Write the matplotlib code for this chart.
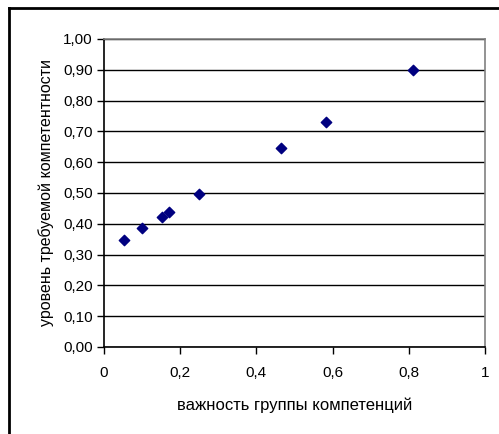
import matplotlib
matplotlib.use("Agg")
import matplotlib.pyplot as plt
from matplotlib.lines import Line2D
from matplotlib.ticker import FuncFormatter

plt.rcParams['font.family'] = ['Liberation Sans', 'DejaVu Sans']

x_vals = [0.052, 0.100, 0.151, 0.171, 0.250, 0.464, 0.583, 0.811]
y_vals = [0.347, 0.387, 0.423, 0.437, 0.496, 0.647, 0.730, 0.900]
x_ticks = [0, 0.2, 0.4, 0.6, 0.8, 1.0]
y_ticks = [0.0, 0.1, 0.2, 0.3, 0.4, 0.5, 0.6, 0.7, 0.8, 0.9, 1.0]
x_label = "важность группы компетенций"
y_label = "уровень требуемой компетентности"

fig = plt.figure(figsize=(4.99, 4.34), dpi=100)
W, H = 499, 434
ax = fig.add_axes([104 / W, (H - 347) / H, (485 - 104) / W, (347 - 39) / H])

# outer chart frame (left and top edges visible)
fig.add_artist(Line2D([9 / W, 9 / W], [0, 1 - 8 / H], color='black', lw=2, transform=fig.transFigure))
fig.add_artist(Line2D([9 / W, 1], [1 - 8 / H, 1 - 8 / H], color='black', lw=2, transform=fig.transFigure))

ax.set_xlim(0, 1)
ax.set_ylim(0, 1)
ax.set_xticks(x_ticks)
ax.set_yticks(y_ticks)
ax.yaxis.grid(True, color='black', lw=1)
ax.set_axisbelow(True)

ax.spines['left'].set_color('black')
ax.spines['bottom'].set_color('black')
ax.spines['left'].set_linewidth(1.2)
ax.spines['bottom'].set_linewidth(1.2)
ax.spines['top'].set_color('#808080')
ax.spines['right'].set_color('#808080')
ax.spines['top'].set_linewidth(1.2)
ax.spines['right'].set_linewidth(1.2)

ax.tick_params(direction='out', length=5, width=1, colors='black', labelsize=11, pad=3)
ax.tick_params(axis='x', pad=9)

def fmt_x(v, pos):
    if abs(v) < 1e-9:
        return "0"
    if abs(v - 1) < 1e-9:
        return "1"
    return f"{v:.1f}".replace('.', ',')

ax.xaxis.set_major_formatter(FuncFormatter(fmt_x))
ax.yaxis.set_major_formatter(FuncFormatter(lambda v, p: f"{v:.2f}".replace('.', ',')))

ax.scatter(x_vals, y_vals, marker='D', s=28, color='#000080', zorder=3, clip_on=False)

ax.set_xlabel(x_label, fontsize=12, labelpad=12)
ax.set_ylabel(y_label, fontsize=11.5, labelpad=7)

fig.savefig("out.png", dpi=100)
